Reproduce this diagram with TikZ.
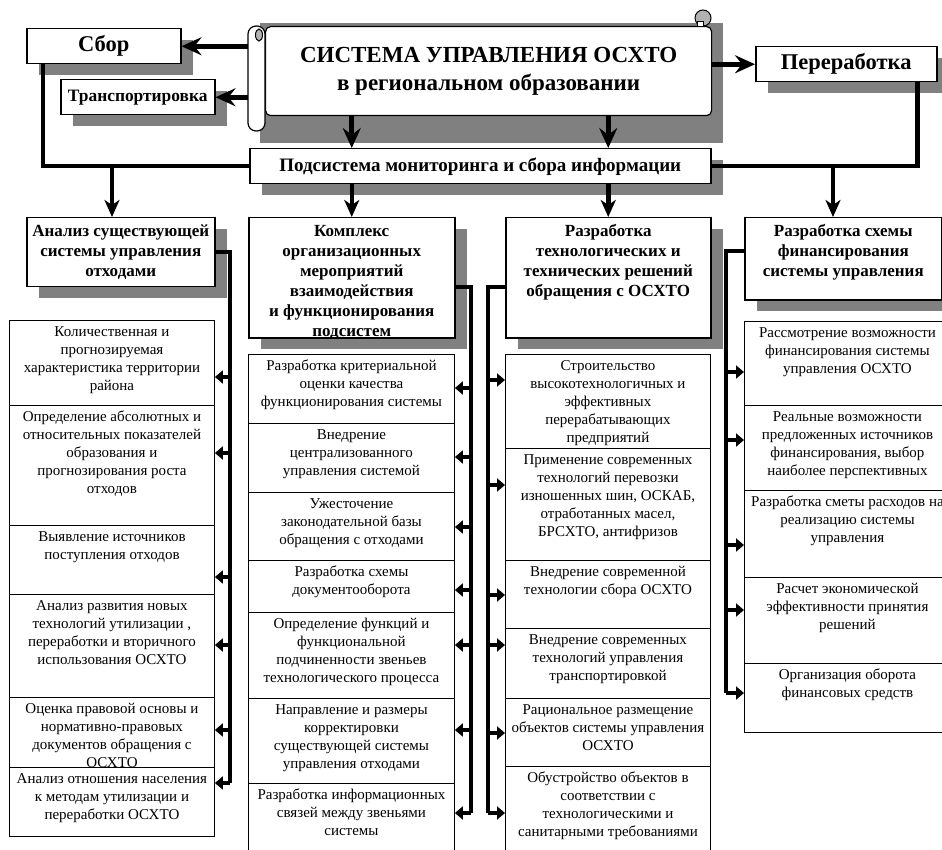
\documentclass[tikz,border=0pt]{standalone}
\usepackage{fontspec}
\setmainfont{Liberation Serif}
\usetikzlibrary{arrows.meta,shadows}

\newcommand{\itm}[3]{\parbox[t][#2pt][t]{#1pt}{\centering\rule{0pt}{16.5pt}#3}}
\newcommand{\hdr}[3]{\parbox[t][#2pt][t]{#1pt}{\centering\rule{0pt}{19pt}#3}}

\begin{document}
\begin{tikzpicture}[x=1pt, y=-1pt,
  shade/.style={drop shadow={shadow xshift=12pt, shadow yshift=-11pt, fill=black!50, opacity=1}},
  lab/.style={draw, fill=white, line width=1.5pt, inner sep=0pt, anchor=north west, font=\bfseries},
  head/.style={draw, fill=white, line width=1.5pt, inner sep=0pt, anchor=north west, shade, font=\bfseries\fontsize{17}{20}\selectfont},
  cell/.style={draw, fill=white, line width=0.9pt, inner sep=0pt, anchor=north west, font=\fontsize{15}{18}\selectfont},
  wire/.style={line width=4.5pt},
  bus/.style={line width=3.5pt},
  big/.style={line width=5pt, -{Stealth[length=20pt, width=18pt, inset=7pt]}},
  down/.style={line width=4.5pt, -{Stealth[length=17pt, width=15pt, inset=5pt]}},
  tip/.style={line width=3.5pt, -{Triangle[length=8pt, width=13pt]}}]
  \useasboundingbox (0,0) rectangle (942,850);
  \clip (0,0) rectangle (942,850);

  % scroll
  \fill[black!50] (260,23) rectangle (723,143);
  \node[draw, fill=white, line width=1.2pt, rounded corners=5pt, minimum width=446pt, minimum height=89pt, anchor=north west,
        align=center, font=\bfseries\fontsize{23}{28}\selectfont] (sys) at (265,26)
        {СИСТЕМА УПРАВЛЕНИЯ ОСХТО\\в региональном образовании};
  \coordinate (roll) at (248,26);
  \draw[fill=white, line width=1.2pt, rounded corners=8pt] (roll) rectangle (265,131);
  \draw[fill=black!30, line width=1pt] (259,35) ellipse (3.5pt and 6pt);
  \draw[fill=black!30, line width=1pt] (703,18) circle (8pt);
  \draw[fill=white, line width=0.8pt] (697,26) rectangle (703,21);

  \node[lab, shade, minimum width=154pt, minimum height=35pt, font=\bfseries\fontsize{22.5}{26}\selectfont] (sbor) at (26,28) {Сбор};
  \node[lab, shade, minimum width=154pt, minimum height=35pt, font=\bfseries\fontsize{17.4}{20}\selectfont] (trans) at (60,79) {Транспортировка};
  \node[lab, shade, minimum width=181pt, minimum height=35pt, font=\bfseries\fontsize{22.5}{26}\selectfont] (pere) at (755,46) {Переработка};

  \draw[big] (roll |- sbor.east) -- (sbor.east);
  \draw[big] (roll |- trans.east) -- (trans.east);
  \draw[big] (sys.east |- pere.west) -- (pere.west);

  \node[lab, shade, minimum width=461pt, minimum height=35pt, font=\bfseries\fontsize{19}{22}\selectfont] (pods) at (249,148) {Подсистема мониторинга и сбора информации};

  \draw[wire] ([xshift=17pt]sbor.south west) |- (pods.west);
  \draw[wire] ([xshift=-20pt]pere.south east) |- (pods.east);

  % column heads
  \node[head] (c1h) at (26,217) {\hdr{188}{69}{Анализ существующей\\системы управления\\отходами}};
  \node[head] (c2h) at (248,217) {\hdr{206}{120}{Комплекс\\организационных\\мероприятий\\взаимодействия\\и функционирования\\подсистем}};
  \node[head] (c3h) at (505,217) {\hdr{205}{120}{Разработка\\технологических и\\технических решений\\обращения с ОСХТО}};
  \node[head] (c4h) at (744,217) {\hdr{197}{82}{Разработка схемы\\финансирования\\системы управления}};

  \draw[big] (sys.south -| c2h.north) -- (pods.north -| c2h.north);
  \draw[big] (sys.south -| c3h.north) -- (pods.north -| c3h.north);
  \draw[down] (pods.south -| c2h.north) -- (c2h.north);
  \draw[down] (pods.south -| c3h.north) -- (c3h.north);
  \coordinate (j1) at (112,165.5);
  \coordinate (j4) at (833,165.5);
  \draw[down] (j1) -- (j1 |- c1h.north);
  \draw[down] (j4) -- (j4 |- c4h.north);

  % column 1
  \node[cell] (c1a) at (9,320) {\itm{205}{85}{Количественная и\\прогнозируемая\\характеристика территории\\района}};
  \node[cell] (c1b) at (9,405) {\itm{205}{120}{Определение абсолютных и\\относительных показателей\\образования и\\прогнозирования роста\\отходов}};
  \node[cell] (c1c) at (9,525) {\itm{205}{69}{Выявление источников\\поступления отходов}};
  \node[cell] (c1d) at (9,594) {\itm{205}{103}{Анализ развития новых\\технологий утилизации ,\\переработки и вторичного\\использования ОСХТО}};
  \node[cell] (c1e) at (9,697) {\itm{205}{70}{Оценка правовой основы и\\нормативно-правовых\\документов обращения с\\ОСХТО}};
  \node[cell] (c1f) at (9,767) {\itm{205}{69}{Анализ отношения населения\\к методам утилизации и\\переработки ОСХТО}};

  % column 2
  \node[cell] (c2a) at (248,354) {\itm{206}{69}{Разработка критериальной\\оценки качества\\функционирования системы}};
  \node[cell] (c2b) at (248,423) {\itm{206}{69}{Внедрение\\централизованного\\управления системой}};
  \node[cell] (c2c) at (248,492) {\itm{206}{68}{Ужесточение\\законодательной базы\\обращения с отходами}};
  \node[cell] (c2d) at (248,560) {\itm{206}{52}{Разработка схемы\\документооборота}};
  \node[cell] (c2e) at (248,612) {\itm{206}{86}{Определение функций и\\функциональной\\подчиненности звеньев\\технологического процесса}};
  \node[cell] (c2f) at (248,698) {\itm{206}{85}{Направление и размеры\\корректировки\\существующей системы\\управления отходами}};
  \node[cell] (c2g) at (248,783) {\itm{206}{80}{Разработка информационных\\связей между звеньями\\системы}};

  % column 3
  \node[cell] (c3a) at (505,354) {\itm{205}{94}{Строительство\\высокотехнологичных и\\эффективных\\перерабатывающих\\предприятий}};
  \node[cell] (c3b) at (505,448) {\itm{205}{112}{Применение современных\\технологий перевозки\\изношенных шин, ОСКАБ,\\отработанных масел,\\БРСХТО, антифризов}};
  \node[cell] (c3c) at (505,560) {\itm{205}{68}{Внедрение современной\\технологии сбора ОСХТО}};
  \node[cell] (c3d) at (505,628) {\itm{205}{70}{Внедрение современных\\технологий управления\\транспортировкой}};
  \node[cell] (c3e) at (505,698) {\itm{205}{68}{Рациональное размещение\\объектов системы управления\\ОСХТО}};
  \node[cell] (c3f) at (505,766) {\itm{205}{90}{Обустройство объектов в\\соответствии с\\технологическими и\\санитарными требованиями}};

  % column 4
  \node[cell] (c4a) at (744,321) {\itm{206}{84}{Рассмотрение возможности\\финансирования системы\\управления ОСХТО}};
  \node[cell] (c4b) at (744,405) {\itm{206}{85}{Реальные возможности\\предложенных источников\\финансирования, выбор\\наиболее перспективных}};
  \node[cell] (c4c) at (744,490) {\itm{206}{87}{Разработка сметы расходов на\\реализацию системы\\управления}};
  \node[cell] (c4d) at (744,577) {\itm{206}{86}{Расчет экономической\\эффективности принятия\\решений}};
  \node[cell] (c4e) at (744,663) {\itm{206}{69}{Организация оборота\\финансовых средств}};

  % buses
  \coordinate (b1) at (230,0);
  \coordinate (b2) at (471,0);
  \coordinate (b3) at (488,0);
  \coordinate (b4) at (726,0);
  \draw[bus] (c1h.east) -| (b1 |- 0,783);
  \draw[bus] (c2h.east |- 0,287) -| (b2 |- 0,813);
  \draw[bus] (c3h.west |- 0,287) -| (b3 |- 0,813);
  \draw[bus] (c4h.west |- 0,251) -| (b4 |- 0,693);

  \draw[tip] (b1 |- 0,377) -- (c1a.east |- 0,377);
  \draw[tip] (b1 |- 0,453) -- (c1b.east |- 0,453);
  \draw[tip] (b1 |- 0,577) -- (c1c.east |- 0,577);
  \draw[tip] (b1 |- 0,645) -- (c1d.east |- 0,645);
  \draw[tip] (b1 |- 0,730) -- (c1e.east |- 0,730);
  \draw[tip] (b1 |- 0,783) -- (c1f.east |- 0,783);

  \draw[tip] (b2 |- 0,388) -- (c2a.east |- 0,388);
  \draw[tip] (b2 |- 0,457) -- (c2b.east |- 0,457);
  \draw[tip] (b2 |- 0,527) -- (c2c.east |- 0,527);
  \draw[tip] (b2 |- 0,590) -- (c2d.east |- 0,590);
  \draw[tip] (b2 |- 0,645) -- (c2e.east |- 0,645);
  \draw[tip] (b2 |- 0,730) -- (c2f.east |- 0,730);
  \draw[tip] (b2 |- 0,813) -- (c2g.east |- 0,813);

  \draw[tip] (b3 |- 0,380) -- (c3a.west |- 0,380);
  \draw[tip] (b3 |- 0,485) -- (c3b.west |- 0,485);
  \draw[tip] (b3 |- 0,595) -- (c3c.west |- 0,595);
  \draw[tip] (b3 |- 0,645) -- (c3d.west |- 0,645);
  \draw[tip] (b3 |- 0,733) -- (c3e.west |- 0,733);
  \draw[tip] (b3 |- 0,813) -- (c3f.west |- 0,813);

  \draw[tip] (b4 |- 0,372) -- (c4a.west |- 0,372);
  \draw[tip] (b4 |- 0,440) -- (c4b.west |- 0,440);
  \draw[tip] (b4 |- 0,545) -- (c4c.west |- 0,545);
  \draw[tip] (b4 |- 0,610) -- (c4d.west |- 0,610);
  \draw[tip] (b4 |- 0,693) -- (c4e.west |- 0,693);
\end{tikzpicture}
\end{document}
